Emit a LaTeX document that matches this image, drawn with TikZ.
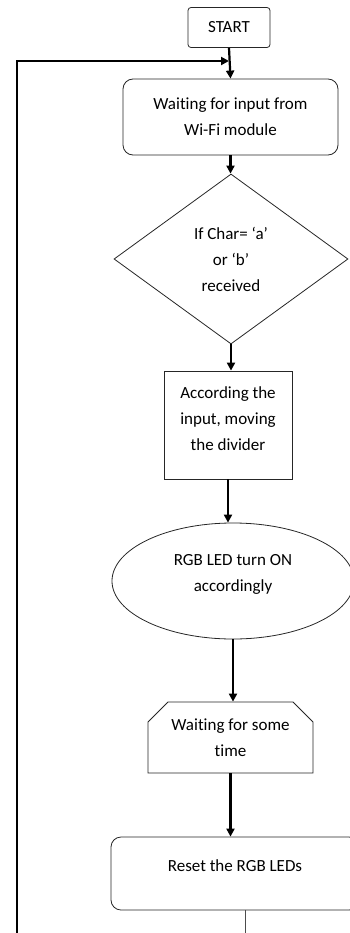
\documentclass[tikz,border=0pt]{standalone}
\usepackage{fontspec}
\setmainfont{Carlito}[Ligatures={NoCommon}]
\usetikzlibrary{arrows.meta,shapes.geometric,shapes.misc}
\begin{document}
\begin{tikzpicture}[x=1pt,y=-1pt,
  box/.style={draw=black!85,line width=0.8pt,fill=white,align=center,inner sep=2pt,
    font=\fontsize{17}{26}\selectfont},
  txt/.style={align=center,inner sep=0pt,font=\fontsize{17}{26}\selectfont},
  flow/.style={line width=2.2pt,-{Triangle[length=8pt,width=8pt]}},
]
\useasboundingbox (0,0) rectangle (350,933);
\clip (0,0) rectangle (350,933);
\node[box,rounded corners=3pt,minimum width=82pt,minimum height=40pt] (start) at (229,27.5) {START};
\node[box,rounded corners=10pt,minimum width=215pt,minimum height=76pt] (wait) at (230.5,117) {Waiting for input from\\Wi-Fi module};
\node[box,diamond,inner sep=0pt,minimum width=234pt,minimum height=170pt] (dec) at (231,259) {If Char= ‘a’\\or ‘b’\\received};
\node[box,minimum width=128pt,minimum height=108pt] (move) at (228,425) {};
\node[txt] (movetext) at ([yshift=6pt]move.center) {According the\\input, moving\\the divider};
\node[box,ellipse,inner sep=0pt,minimum width=242pt,minimum height=116pt] (led) at (233,581) {};
\node[txt] (ledtext) at ([yshift=7pt]led.center) {RGB LED turn ON\\accordingly};
\node[box,chamfered rectangle,chamfered rectangle corners={north west,north east},
  chamfered rectangle xsep=8pt,chamfered rectangle ysep=12pt,
  minimum width=165pt,minimum height=71pt] (time) at (230.5,737.5) {Waiting for some\\time};
\node[box,rounded corners=10pt,minimum width=248pt,minimum height=73pt,text depth=16pt,align=none] (reset) at (235,873.5) {Reset the RGB LEDs};
\coordinate (loopbot) at (17,940);
\coordinate (join) at (229,61);
\coordinate (resetout) at (245,940);
\draw[flow] (start.south) -- (wait.north);
\draw[line width=2.8pt,-{Triangle[length=8pt,width=8pt]}] (loopbot) |- (join);
\draw[flow] (wait.south) -- (wait.south |- dec.north);
\draw[flow] (dec.south) -- (dec.south |- move.north);
\draw[flow] (move.south) -- (move.south |- led.north);
\draw[flow] (led.south) -- (led.south |- time.north);
\draw[flow] (time.south) -- (time.south |- reset.north);
\draw[line width=0.8pt,black!70] (reset.south -| resetout) -- (resetout);
\end{tikzpicture}
\end{document}
